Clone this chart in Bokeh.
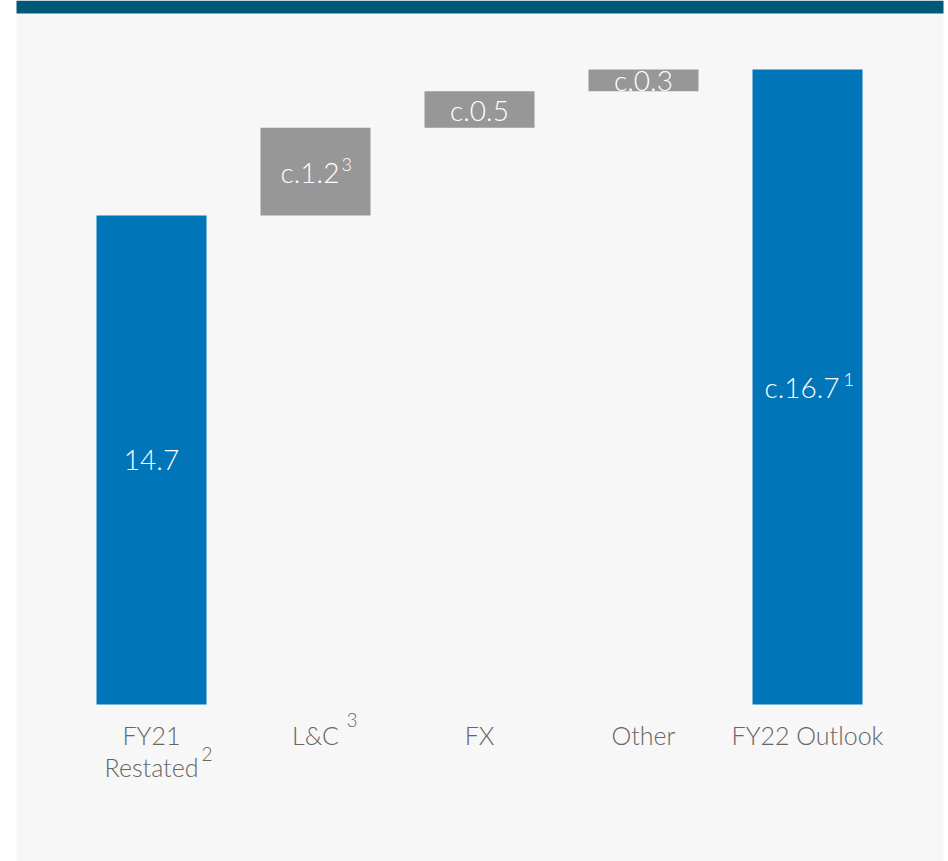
from bokeh.plotting import figure
from bokeh.models import Range1d, ColumnDataSource
from bokeh.core.properties import value
from bokeh.embed import file_html
from bokeh.resources import INLINE

# ---- data ----
categories = ["FY21 Restated", "L&C", "FX", "Other", "FY22 Outlook"]
label_line1 = ["FY21", "L&C", "FX", "Other", "FY22 Outlook"]
label_line2 = ["Restated", "", "", "", ""]
label_sup = ["2", "3", "", "", ""]
values = [14.7, 1.2, 0.5, 0.3, 16.7]
is_total = [True, False, False, False, True]
value_text = ["14.7", "c.1.2", "c.0.5", "c.0.3", "c.16.7"]
value_sup = ["", "3", "", "", "1"]
axis_base = 8.0

# ---- layout helpers (page pixels -> data) ----
W, H = 948, 861
X0, STEP = 151.0, 164.0
Y_BASE_PX, PX_PER_UNIT = 704.0, 73.0

def xd(px):
    return (px - X0) / STEP

def yd(py):
    return axis_base + (Y_BASE_PX - py) / PX_PER_UNIT

FONT = value("'Lato Light', Lato, sans-serif")

p = figure(width=W, height=H, output_backend="svg", toolbar_location=None,
           x_range=Range1d(xd(0), xd(W)), y_range=Range1d(yd(H), yd(0)),
           x_axis_location=None, y_axis_location=None,
           min_border=0, background_fill_color="#ffffff",
           border_fill_color="#ffffff", outline_line_color=None)
p.grid.visible = False

# panel background and top band
p.quad(left=[xd(16)], right=[xd(943)], bottom=[yd(H)], top=[yd(13)],
       fill_color="#f7f7f7", line_color=None)
p.quad(left=[xd(16)], right=[xd(943)], bottom=[yd(13)], top=[yd(0)],
       fill_color="#005878", line_color=None)

# waterfall geometry
xs = list(range(len(categories)))
bottoms, tops, colors = [], [], []
run = 0.0
for v, tot in zip(values, is_total):
    if tot:
        bottoms.append(axis_base)
        tops.append(v)
        run = v
        colors.append("#0075b7")
    else:
        bottoms.append(run)
        tops.append(run + v)
        run += v
        colors.append("#979797")
mids = [(b + t) / 2 for b, t in zip(bottoms, tops)]

src = ColumnDataSource(dict(x=xs, bottom=bottoms, top=tops, color=colors,
                            mid=mids, vt=value_text, vs=value_sup,
                            l1=label_line1, l2=label_line2, ls=label_sup))

p.vbar(x="x", width=110 / STEP, bottom="bottom", top="top", fill_color="color",
       line_color=None, source=src)

# value labels inside bars
src.data["moff"] = [-5.5 if s else 0 for s in value_sup]
src.data["soff"] = [0, 26, 0, 0, 36]
p.text(x="x", y="mid", text="vt", x_offset="moff", source=src,
       text_align="center", text_baseline="middle", text_color="white",
       text_font=FONT, text_font_size="28px")
p.text(x="x", y="mid", text="vs", x_offset="soff", y_offset=-7, source=src,
       text_align="left", text_baseline="middle", text_color="white",
       text_font=FONT, text_font_size="18px")

# category labels
p.text(x="x", y=yd(734), text="l1", source=src, text_align="center",
       text_baseline="middle", text_color="#666666", text_font=FONT,
       text_font_size="25px")
p.text(x="x", y=yd(766), text="l2", source=src, text_align="center",
       text_baseline="middle", text_color="#666666", text_font=FONT,
       text_font_size="25px")
src.data["lsx"] = [50, 31, 0, 0, 0]
src.data["lsy"] = [yd(753), yd(719), 0, 0, 0]
p.text(x="x", y="lsy", text="ls", x_offset="lsx", source=src, text_align="left",
       text_baseline="middle", text_color="#666666", text_font=FONT,
       text_font_size="19px")

open("out.html", "w").write(file_html(p, INLINE))
